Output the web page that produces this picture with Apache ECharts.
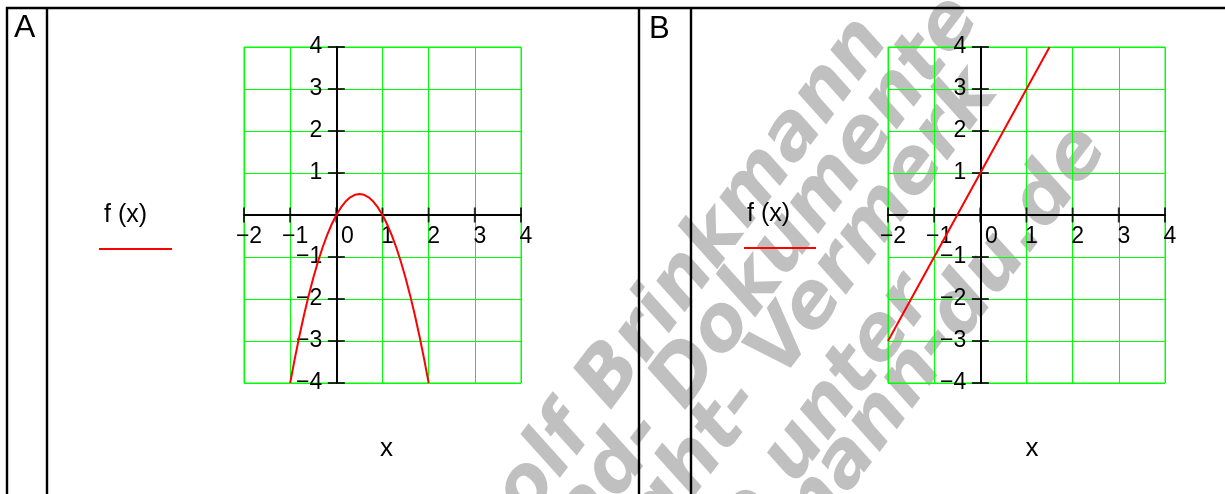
<!DOCTYPE html>
<html>
<head>
<meta charset="utf-8">
<script src="https://cdn.jsdelivr.net/npm/echarts@6/dist/echarts.min.js"></script>
<style>
html,body{margin:0;padding:0;background:#fff;}
#chart{width:1225px;height:494px;background:#fff;}
</style>
</head>
<body>
<div id="chart"></div>
<script>
// ---- data ----
const panelNames = ['A', 'B'];
const xTicks = [-2, -1, 0, 1, 2, 3, 4];
const yTicks = [-4, -3, -2, -1, 0, 1, 2, 3, 4];
// Panel A: parabola
const parabolaX = [-1, -0.9, -0.8, -0.7, -0.6, -0.5, -0.4, -0.3, -0.2, -0.1, 0, 0.1, 0.2, 0.3, 0.4, 0.5, 0.6, 0.7, 0.8, 0.9, 1, 1.1, 1.2, 1.3, 1.4, 1.5, 1.6, 1.7, 1.8, 1.9, 2];
const parabolaY = [-4, -3.42, -2.88, -2.38, -1.92, -1.5, -1.12, -0.78, -0.48, -0.22, 0, 0.18, 0.32, 0.42, 0.48, 0.5, 0.48, 0.42, 0.32, 0.18, 0, -0.22, -0.48, -0.78, -1.12, -1.5, -1.92, -2.38, -2.88, -3.42, -4];
// Panel B: straight line
const lineX = [-2, -1, 0, 1, 1.5];
const lineY = [-3, -1, 1, 3, 4];
const legendLabel = 'f (x)';
const axisTitle = 'x';
const watermarkLines = ['Rolf Brinkmann', 'Mathcad- Dokumente', 'Copyright- Vermerk', 'siehe unter', 'www.brinkmann-du.de'];

const X_MIN = -2, X_MAX = 4, Y_MIN = -4, Y_MAX = 4;
const FONT = '"Liberation Sans", Arial, sans-serif';
const WM_FONT = '"DejaVu Sans", sans-serif';
const GREEN = '#00ff00';
const RED = '#ff0000';

function fmt(v) { return v < 0 ? '\u2212' + Math.abs(v) : String(v); }

const gridBoxes = [
  {left: 244, top: 47, width: 277, height: 336},
  {left: 888, top: 47, width: 277, height: 336}
];
const grids = gridBoxes.map(g => Object.assign({}, g, {show: true, borderColor: GREEN, borderWidth: 1, backgroundColor: 'transparent'}));

// axes cross at the origin: shift each axis from the grid edge to the zero position
const xAxes = [0, 1].map(i => ({
  type: 'value', gridIndex: i, min: X_MIN, max: X_MAX, interval: 1, position: 'bottom',
  offset: -gridBoxes[i].height * (0 - Y_MIN) / (Y_MAX - Y_MIN),
  axisLine: {show: true, onZero: false, lineStyle: {color: '#000', width: 2}},
  axisTick: {show: false},
  splitLine: {show: true, lineStyle: {color: GREEN, width: 1}},
  axisLabel: {
    margin: 10, color: '#000', fontSize: 23, fontFamily: FONT,
    formatter: v => v === 0 ? '{z|0}' : '{n|' + fmt(v) + '}',
    rich: {
      n: {fontSize: 23, fontFamily: FONT, color: '#000', padding: [0, 0, 0, 10]},
      z: {fontSize: 23, fontFamily: FONT, color: '#000', padding: [0, 0, 0, 22]}
    }
  }
}));

const yAxes = [0, 1].map(i => ({
  type: 'value', gridIndex: i, min: Y_MIN, max: Y_MAX, interval: 1, position: 'left',
  offset: -gridBoxes[i].width * (0 - X_MIN) / (X_MAX - X_MIN),
  axisLine: {show: true, onZero: false, lineStyle: {color: '#000', width: 2}},
  axisTick: {show: false},
  splitLine: {show: true, lineStyle: {color: GREEN, width: 1}},
  axisLabel: {
    margin: 14, color: '#000', fontSize: 23, fontFamily: FONT, padding: [8, 0, 0, 0],
    formatter: v => v === 0 ? '' : fmt(v)
  }
}));

const curves = [
  parabolaX.map((x, k) => [x, parabolaY[k]]),
  lineX.map((x, k) => [x, lineY[k]])
];

const series = [];
[0, 1].forEach(i => {
  series.push({
    type: 'line', xAxisIndex: i, yAxisIndex: i, data: curves[i],
    showSymbol: false, smooth: false, clip: false,
    lineStyle: {color: RED, width: 2}, z: 5, silent: true
  });
  series.push({
    type: 'scatter', xAxisIndex: i, yAxisIndex: i, symbol: 'rect', symbolSize: [2, 15],
    data: xTicks.map(v => [v, 0]), itemStyle: {color: '#000'}, z: 3, silent: true
  });
  series.push({
    type: 'scatter', xAxisIndex: i, yAxisIndex: i, symbol: 'rect', symbolSize: [17, 2],
    data: yTicks.map(v => [0, v]), itemStyle: {color: '#000'}, z: 3, silent: true
  });
});

// watermark placement (end points of each rotated line)
const wmEnds = [[874, 28], [965, 6], [983, 80], [919, 287], [1093, 136]];
const wmRot = 53 * Math.PI / 180;
const graphics = watermarkLines.map((t, k) => ({
  type: 'text', x: wmEnds[k][0], y: wmEnds[k][1], rotation: wmRot, z: -10, silent: true,
  style: {text: t, fill: '#c0c0c0', font: 'italic bold 76px ' + WM_FONT, textAlign: 'right', textVerticalAlign: 'middle'}
}));

// table frame
const frameLines = [
  [6, 8, 1225, 8], [7, 7, 7, 494], [47, 7, 47, 494], [639, 7, 639, 494], [691, 7, 691, 494]
];
frameLines.forEach(l => graphics.push({
  type: 'line', z: 100, silent: true,
  shape: {x1: l[0], y1: l[1], x2: l[2], y2: l[3]},
  style: {stroke: '#000', lineWidth: 2.4}
}));

// panel letters
graphics.push({type: 'text', x: 14, y: 28, z: 100, style: {text: panelNames[0], fill: '#000', font: '32px ' + FONT, textAlign: 'left', textVerticalAlign: 'middle'}});
graphics.push({type: 'text', x: 649, y: 29, z: 100, style: {text: panelNames[1], fill: '#000', font: '31px ' + FONT, textAlign: 'left', textVerticalAlign: 'middle'}});

// legends and axis titles
const legendPos = [[104, 215, 99, 172, 249], [747, 214, 744, 816, 248]];
const titlePos = [[386.5, 449], [1032, 449]];
[0, 1].forEach(i => {
  const p = legendPos[i];
  graphics.push({type: 'text', x: p[0], y: p[1], z: 100, style: {text: legendLabel, fill: '#000', font: '25px ' + FONT, textAlign: 'left', textVerticalAlign: 'middle'}});
  graphics.push({type: 'line', z: 100, shape: {x1: p[2], y1: p[4], x2: p[3], y2: p[4]}, style: {stroke: RED, lineWidth: 2}});
  graphics.push({type: 'text', x: titlePos[i][0], y: titlePos[i][1], z: 100, style: {text: axisTitle, fill: '#000', font: '26px ' + FONT, textAlign: 'center', textVerticalAlign: 'middle'}});
});

const chart = echarts.init(document.getElementById('chart'), null, {renderer: 'canvas'});
chart.setOption({
  animation: false,
  backgroundColor: '#fff',
  grid: grids,
  xAxis: xAxes,
  yAxis: yAxes,
  series: series,
  graphic: {elements: graphics}
});
</script>
</body>
</html>
